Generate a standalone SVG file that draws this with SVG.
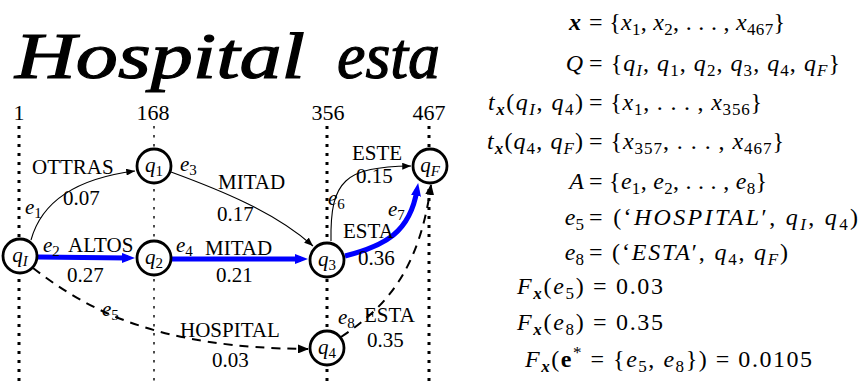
<svg xmlns="http://www.w3.org/2000/svg" width="868" height="386" viewBox="0 0 868 386" font-family="Liberation Serif, serif">
<style>
text{fill:#000}
.g{font-size:21px}
.n{font-size:22px}
.m{font-size:24px}
.i{font-style:italic}
.b{font-weight:bold;font-style:italic}
.bu{font-weight:bold}
.s{font-size:15px}
.ms{font-size:17px}
.hand{font-size:66px;font-style:italic}
.vthick{stroke:#000;stroke-width:3;stroke-dasharray:3 6;fill:none}
.vthin{stroke:#000;stroke-width:1.4;stroke-dasharray:2.5 6.5;fill:none}
.thin{stroke:#000;stroke-width:1.1;fill:none}
.blue{stroke:#0000ff;stroke-width:5;fill:none}
.dash{stroke:#000;stroke-width:2;stroke-dasharray:9 7;fill:none}
.node circle{fill:#fff;stroke:#000;stroke-width:2.8}
</style>
<defs>
<marker id="ah" viewBox="0 0 10 8" refX="10" refY="4" markerWidth="9" markerHeight="7" markerUnits="userSpaceOnUse" orient="auto"><path d="M0,0 L10,4 L0,8 z" fill="#000"/></marker>
<marker id="ahb" viewBox="0 0 13 10" refX="6" refY="5" markerWidth="13" markerHeight="10" markerUnits="userSpaceOnUse" orient="auto"><path d="M0,0 L13,5 L0,10 z" fill="#0000ff"/></marker>
<marker id="ahd" viewBox="0 0 11 9" refX="10" refY="4.5" markerWidth="11" markerHeight="9" markerUnits="userSpaceOnUse" orient="auto"><path d="M0,0 L11,4.5 L0,9 z" fill="#000"/></marker>
</defs>

<g id="handwriting">
<text class="hand" x="15" y="78" textLength="290" lengthAdjust="spacingAndGlyphs" stroke="#000" stroke-width="1.2">Hospital</text>
<text class="hand" x="337" y="78" textLength="103" lengthAdjust="spacingAndGlyphs" stroke="#000" stroke-width="1.2">esta</text>
</g>

<g id="frame-axis">
<text class="n" x="19" y="120" text-anchor="middle">1</text>
<text class="n" x="153" y="120" text-anchor="middle">168</text>
<text class="n" x="328" y="120" text-anchor="middle">356</text>
<text class="n" x="429" y="120" text-anchor="middle">467</text>
<line class="vthick" x1="19" y1="126" x2="19" y2="386"/>
<line class="vthin" x1="154" y1="126" x2="154" y2="386"/>
<line class="vthick" x1="327" y1="126" x2="327" y2="386"/>
<line class="vthick" x1="429" y1="126" x2="429" y2="386"/>
</g>

<g id="connectors">
<path id="e1" class="thin" d="M31,240 C42,200 80,178 135,171" marker-end="url(#ah)"/>
<path id="e3" class="thin" d="M171,172 C220,190 275,212 313,246" marker-end="url(#ah)"/>
<path id="e2" class="blue" d="M38,257 L128,258" marker-end="url(#ahb)"/>
<path id="e4" class="blue" d="M172,259 L301,259" marker-end="url(#ahb)"/>
<path id="e5" class="dash" d="M33,268 C90,312 160,348 308,349" marker-end="url(#ahd)"/>
<path id="e6" class="thin" d="M331,241 C330,180 345,167 411,166" marker-end="url(#ah)"/>
<path id="e7" class="blue" d="M345,256 C385,246 410,232 417,190" marker-end="url(#ahb)"/>
<path id="e8" class="dash" d="M341,337 C390,305 420,265 431,185" marker-end="url(#ahd)"/>
</g>

<g id="edge-labels" class="g">
<text x="32" y="174">OTTRAS</text>
<text x="63" y="205">0.07</text>
<text x="25" y="214"><tspan class="i">e</tspan><tspan class="s" dy="4">1</tspan></text>
<text x="180" y="171"><tspan class="i">e</tspan><tspan class="s" dy="4">3</tspan></text>
<text x="218" y="189">MITAD</text>
<text x="217" y="221">0.17</text>
<text x="43" y="252"><tspan class="i">e</tspan><tspan class="s" dy="4">2</tspan></text>
<text x="68" y="252">ALTOS</text>
<text x="67" y="282">0.27</text>
<text x="176" y="252"><tspan class="i">e</tspan><tspan class="s" dy="4">4</tspan></text>
<text x="205" y="255">MITAD</text>
<text x="216" y="282">0.21</text>
<text x="102" y="316"><tspan class="i">e</tspan><tspan class="s" dy="4">5</tspan></text>
<text x="180" y="337">HOSPITAL</text>
<text x="212" y="367">0.03</text>
<text x="352" y="160">ESTE</text>
<text x="356" y="183">0.15</text>
<text x="328" y="205"><tspan class="i">e</tspan><tspan class="s" dy="4">6</tspan></text>
<text x="388" y="216"><tspan class="i">e</tspan><tspan class="s" dy="4">7</tspan></text>
<text x="343" y="238">ESTA</text>
<text x="358" y="265">0.36</text>
<text x="338" y="324"><tspan class="i">e</tspan><tspan class="s" dy="4">8</tspan></text>
<text x="364" y="322">ESTA</text>
<text x="367" y="347">0.35</text>
</g>

<g id="nodes">
<g id="qI" class="node"><circle cx="20" cy="256" r="17"/><text class="g" x="20" y="262" text-anchor="middle"><tspan class="i">q</tspan><tspan class="s i" dy="4">I</tspan></text></g>
<g id="q1" class="node"><circle cx="154" cy="166" r="17"/><text class="g" x="154" y="172" text-anchor="middle"><tspan class="i">q</tspan><tspan class="s" dy="4">1</tspan></text></g>
<g id="q2" class="node"><circle cx="154" cy="258" r="17"/><text class="g" x="154" y="264" text-anchor="middle"><tspan class="i">q</tspan><tspan class="s" dy="4">2</tspan></text></g>
<g id="q3" class="node"><circle cx="327" cy="260" r="17"/><text class="g" x="327" y="266" text-anchor="middle"><tspan class="i">q</tspan><tspan class="s" dy="4">3</tspan></text></g>
<g id="q4" class="node"><circle cx="327" cy="348" r="17"/><text class="g" x="327" y="354" text-anchor="middle"><tspan class="i">q</tspan><tspan class="s" dy="4">4</tspan></text></g>
<g id="qF" class="node"><circle cx="430" cy="166" r="17"/><text class="g" x="430" y="172" text-anchor="middle"><tspan class="i">q</tspan><tspan class="s i" dy="4">F</tspan></text></g>
</g>

<g id="equations" class="m">
<text class="m b" x="581" y="30" text-anchor="end">x</text>
<text class="m" x="589" y="30" textLength="196">= {<tspan class="i">x</tspan><tspan class="ms" dy="5">1</tspan><tspan dy="-5">, </tspan><tspan class="i">x</tspan><tspan class="ms" dy="5">2</tspan><tspan dy="-5">, . . . , </tspan><tspan class="i">x</tspan><tspan class="ms" dy="5">467</tspan><tspan dy="-5">}</tspan></text>

<text class="m i" x="583" y="71" text-anchor="end">Q</text>
<text class="m" x="589" y="71" textLength="251">= {<tspan class="i">q</tspan><tspan class="ms i" dy="5">I</tspan><tspan dy="-5">, </tspan><tspan class="i">q</tspan><tspan class="ms" dy="5">1</tspan><tspan dy="-5">, </tspan><tspan class="i">q</tspan><tspan class="ms" dy="5">2</tspan><tspan dy="-5">, </tspan><tspan class="i">q</tspan><tspan class="ms" dy="5">3</tspan><tspan dy="-5">, </tspan><tspan class="i">q</tspan><tspan class="ms" dy="5">4</tspan><tspan dy="-5">, </tspan><tspan class="i">q</tspan><tspan class="ms i" dy="5">F</tspan><tspan dy="-5">}</tspan></text>

<text class="m" x="583" y="110" text-anchor="end" textLength="95"><tspan class="i">t</tspan><tspan class="ms b" dy="5">x</tspan><tspan dy="-5">(</tspan><tspan class="i">q</tspan><tspan class="ms i" dy="5">I</tspan><tspan dy="-5">, </tspan><tspan class="i">q</tspan><tspan class="ms" dy="5">4</tspan><tspan dy="-5">)</tspan></text>
<text class="m" x="589" y="110" textLength="173">= {<tspan class="i">x</tspan><tspan class="ms" dy="5">1</tspan><tspan dy="-5">, . . . , </tspan><tspan class="i">x</tspan><tspan class="ms" dy="5">356</tspan><tspan dy="-5">}</tspan></text>

<text class="m" x="583" y="149" text-anchor="end" textLength="96"><tspan class="i">t</tspan><tspan class="ms b" dy="5">x</tspan><tspan dy="-5">(</tspan><tspan class="i">q</tspan><tspan class="ms" dy="5">4</tspan><tspan dy="-5">, </tspan><tspan class="i">q</tspan><tspan class="ms i" dy="5">F</tspan><tspan dy="-5">)</tspan></text>
<text class="m" x="589" y="149" textLength="195">= {<tspan class="i">x</tspan><tspan class="ms" dy="5">357</tspan><tspan dy="-5">, . . . , </tspan><tspan class="i">x</tspan><tspan class="ms" dy="5">467</tspan><tspan dy="-5">}</tspan></text>

<text class="m i" x="584" y="189" text-anchor="end">A</text>
<text class="m" x="589" y="189" textLength="178">= {<tspan class="i">e</tspan><tspan class="ms" dy="5">1</tspan><tspan dy="-5">, </tspan><tspan class="i">e</tspan><tspan class="ms" dy="5">2</tspan><tspan dy="-5">, . . . , </tspan><tspan class="i">e</tspan><tspan class="ms" dy="5">8</tspan><tspan dy="-5">}</tspan></text>

<text class="m" x="584" y="225" text-anchor="end"><tspan class="i">e</tspan><tspan class="ms" dy="5">5</tspan></text>
<text class="m" x="589" y="225" textLength="269">= (‘<tspan class="i">HOSPITAL</tspan>′, <tspan class="i">q</tspan><tspan class="ms i" dy="5">I</tspan><tspan dy="-5">, </tspan><tspan class="i">q</tspan><tspan class="ms" dy="5">4</tspan><tspan dy="-5">)</tspan></text>

<text class="m" x="584" y="260" text-anchor="end"><tspan class="i">e</tspan><tspan class="ms" dy="5">8</tspan></text>
<text class="m" x="589" y="260" textLength="199">= (‘<tspan class="i">ESTA</tspan>′, <tspan class="i">q</tspan><tspan class="ms" dy="5">4</tspan><tspan dy="-5">, </tspan><tspan class="i">q</tspan><tspan class="ms i" dy="5">F</tspan><tspan dy="-5">)</tspan></text>

<text class="m" x="517" y="294" textLength="146"><tspan class="i">F</tspan><tspan class="ms b" dy="5">x</tspan><tspan dy="-5">(</tspan><tspan class="i">e</tspan><tspan class="ms" dy="5">5</tspan><tspan dy="-5">) = 0.03</tspan></text>
<text class="m" x="517" y="330" textLength="146"><tspan class="i">F</tspan><tspan class="ms b" dy="5">x</tspan><tspan dy="-5">(</tspan><tspan class="i">e</tspan><tspan class="ms" dy="5">8</tspan><tspan dy="-5">) = 0.35</tspan></text>
<text class="m" x="525" y="367" textLength="287"><tspan class="i">F</tspan><tspan class="ms b" dy="5">x</tspan><tspan dy="-5">(</tspan><tspan class="bu">e</tspan><tspan class="ms" dy="-9">*</tspan><tspan dy="9"> = {</tspan><tspan class="i">e</tspan><tspan class="ms" dy="5">5</tspan><tspan dy="-5">, </tspan><tspan class="i">e</tspan><tspan class="ms" dy="5">8</tspan><tspan dy="-5">}) = 0.0105</tspan></text>
</g>
</svg>
